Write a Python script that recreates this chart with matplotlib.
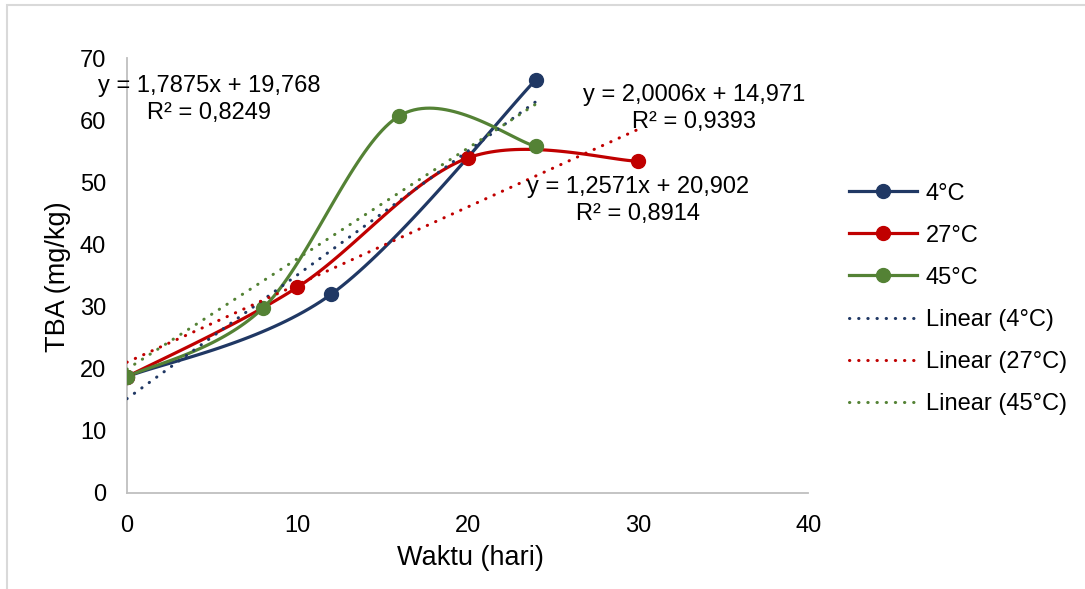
import numpy as np
import matplotlib.pyplot as plt
from matplotlib.patches import Rectangle

plt.rcParams['font.family'] = ['Liberation Sans', 'DejaVu Sans']

# data
hari_4 = [0, 12, 24]
tba_4 = [18.7, 32.0, 66.5]
hari_27 = [0, 10, 20, 30]
tba_27 = [18.7, 33.1, 53.9, 53.4]
hari_45 = [0, 8, 16, 24]
tba_45 = [18.7, 29.8, 60.7, 55.8]

labels = ['4°C', '27°C', '45°C']
colors = ['#203864', '#C00000', '#548235']
eq_lines = [('y = 2,0006x + 14,971', 'R² = 0,9393'),
            ('y = 1,2571x + 20,902', 'R² = 0,8914'),
            ('y = 1,7875x + 19,768', 'R² = 0,8249')]
# centre of each equation label, pixels from top-left
eq_px = [(694, 95), (638, 187), (209, 86)]


def smooth(x, y, n=40):
    # excel style smoothed line (cubic bezier, 1/6 tangent)
    p = np.column_stack([x, y]).astype(float)
    p = np.vstack([p[0], p, p[-1]])
    out = []
    for i in range(1, len(p) - 2):
        p0, p3 = p[i], p[i + 1]
        c1 = p0 + (p[i + 1] - p[i - 1]) / 6
        c2 = p3 - (p[i + 2] - p[i]) / 6
        t = np.linspace(0, 1, n)[:, None]
        seg = (1 - t)**3 * p0 + 3 * (1 - t)**2 * t * c1 + 3 * (1 - t) * t**2 * c2 + t**3 * p3
        out.append(seg)
    out = np.vstack(out)
    return out[:, 0], out[:, 1]


W, H = 1085, 589
fig = plt.figure(figsize=(W / 100, H / 100), dpi=100)
ax = fig.add_axes([0.117, 0.163, 0.628, 0.7385])

series = [(hari_4, tba_4), (hari_27, tba_27), (hari_45, tba_45)]
handles = []
for (x, y), lab, c in zip(series, labels, colors):
    sx, sy = smooth(x, y)
    ax.plot(sx, sy, color=c, lw=2.3, zorder=3, solid_capstyle='round')
    ax.plot(x, y, 'o', color=c, ms=10, zorder=4)
    h, = ax.plot([], [], '-o', color=c, lw=2.3, ms=10, label=lab)
    handles.append(h)

for (x, y), lab, c in zip(series, labels, colors):
    m, b = np.polyfit(x, y, 1)
    xs = np.array([min(x), max(x)])
    h, = ax.plot(xs, m * xs + b, color=c, lw=2.2, linestyle=(0, (0.1, 2.9)),
                 dash_capstyle='round', zorder=5, label='Linear (' + lab + ')')
    handles.append(h)

for (l1, l2), (px, py) in zip(eq_lines, eq_px):
    fig.text(px / W, 1 - py / H, l1, ha='center', va='center', fontsize=17)
    fig.text(px / W, 1 - (py + 27) / H, l2, ha='center', va='center', fontsize=17)

ax.set_xlim(0, 40)
ax.set_ylim(0, 70)
ax.set_xticks(range(0, 41, 10))
ax.set_yticks(range(0, 71, 10))
ax.tick_params(length=0, labelsize=17)
ax.tick_params(axis='x', pad=16)
ax.tick_params(axis='y', pad=15)
for s in ['top', 'right']:
    ax.spines[s].set_visible(False)
for s in ['left', 'bottom']:
    ax.spines[s].set_color('#BFBFBF')
    ax.spines[s].set_linewidth(1.3)

fig.text(470 / W, 1 - 558 / H, 'Waktu (hari)', ha='center', va='center', fontsize=19.5)
fig.text(58 / W, 1 - 277 / H, 'TBA (mg/kg)', ha='center', va='center',
         rotation=90, fontsize=19.5)

fig.legend(handles=handles, loc='upper left', bbox_to_anchor=(0.7825, 0.69),
           frameon=False, fontsize=17, handlelength=2.9, handletextpad=0.35,
           labelspacing=0.85, borderpad=0, borderaxespad=0)

fig.patches.append(Rectangle((0.0065, -0.1), 1.1, 1.0915, transform=fig.transFigure,
                             fill=False, edgecolor='#D9D9D9', lw=1.5))

fig.savefig('out.png', dpi=100)
